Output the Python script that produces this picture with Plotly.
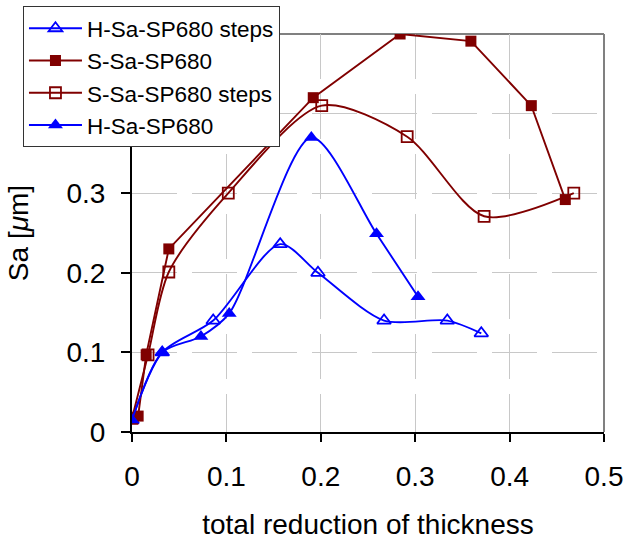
import plotly.graph_objects as go

# H-Sa-SP680 steps (open triangles)
h_steps_x = [0.0, 0.032, 0.086, 0.157, 0.197, 0.267, 0.334, 0.370]
h_steps_y = [0.015, 0.100, 0.140, 0.236, 0.200, 0.140, 0.140, 0.124]

# S-Sa-SP680 (filled squares)
s_x = [0.0, 0.0065, 0.015, 0.039, 0.192, 0.284, 0.359, 0.423, 0.459]
s_y = [0.017, 0.020, 0.097, 0.230, 0.420, 0.500, 0.491, 0.410, 0.292]

# S-Sa-SP680 steps (open squares)
s_steps_x = [0.0, 0.017, 0.039, 0.102, 0.201, 0.2915, 0.373, 0.468]
s_steps_y = [0.017, 0.097, 0.201, 0.300, 0.410, 0.371, 0.271, 0.300]

# H-Sa-SP680 (filled triangles)
h_x = [0.0, 0.032, 0.073, 0.103, 0.190, 0.259, 0.303]
h_y = [0.015, 0.100, 0.120, 0.149, 0.370, 0.249, 0.170]

x_ticks = [0, 0.1, 0.2, 0.3, 0.4, 0.5]
x_labels = ["0", "0.1", "0.2", "0.3", "0.4", "0.5"]
y_ticks = [0, 0.1, 0.2, 0.3, 0.4, 0.5]
y_labels = ["0", "0.1", "0.2", "0.3", "", ""]  # 0.4 and 0.5 hidden behind the legend

BLUE = "#0000FF"
RED = "#800000"
LW = 1.9

fig = go.Figure()
fig.add_trace(go.Scatter(
    x=h_steps_x, y=h_steps_y, name="H-Sa-SP680 steps", mode="lines+markers",
    line=dict(color=BLUE, width=LW, shape="spline", smoothing=0.8),
    marker=dict(symbol="triangle-up-open", size=12, color=BLUE, line=dict(width=1.8, color=BLUE))))
fig.add_trace(go.Scatter(
    x=s_x, y=s_y, name="S-Sa-SP680", mode="lines+markers",
    line=dict(color=RED, width=LW),
    marker=dict(symbol="square", size=11, color=RED)))
fig.add_trace(go.Scatter(
    x=s_steps_x, y=s_steps_y, name="S-Sa-SP680 steps", mode="lines+markers",
    line=dict(color=RED, width=LW, shape="spline", smoothing=0.8),
    marker=dict(symbol="square-open", size=11, color=RED, line=dict(width=1.8, color=RED))))
fig.add_trace(go.Scatter(
    x=h_x, y=h_y, name="H-Sa-SP680", mode="lines+markers",
    line=dict(color=BLUE, width=LW, shape="spline", smoothing=0.8),
    marker=dict(symbol="triangle-up", size=13, color=BLUE)))

font_family = "Liberation Sans, Arial, sans-serif"

fig.update_layout(
    width=627, height=540,
    margin=dict(l=132, r=23, t=34, b=108, autoexpand=False),
    paper_bgcolor="white", plot_bgcolor="white",
    font=dict(family=font_family, size=28, color="black"),
    showlegend=True,
    legend=dict(
        x=-0.231, y=1.07, xanchor="left", yanchor="top",
        bgcolor="white", bordercolor="#333333", borderwidth=1,
        font=dict(size=22.5, family=font_family),
        tracegroupgap=0, itemwidth=53,
    ),
    xaxis=dict(
        range=[0, 0.5], tickvals=x_ticks, ticktext=x_labels,
        showgrid=True, gridcolor="#c8c8c8", griddash="45px,15px", gridwidth=1,
        showline=True, linecolor="black", linewidth=2, mirror=False,
        ticks="outside", ticklen=8, tickwidth=2, tickcolor="black",
        ticklabelstandoff=10, zeroline=False,
        title=dict(text="total reduction of thickness", standoff=24, font=dict(size=28)),
    ),
    yaxis=dict(
        range=[0, 0.5], tickvals=y_ticks, ticktext=y_labels,
        showgrid=True, gridcolor="#c8c8c8", griddash="45px,15px", gridwidth=1,
        showline=True, linecolor="black", linewidth=2, mirror=False,
        ticks="outside", ticklen=9, tickwidth=2, tickcolor="black",
        ticklabelstandoff=10, zeroline=False,
        title=dict(text="Sa [<i>μ</i>m]", standoff=30, font=dict(size=28)),
    ),
    shapes=[
        dict(type="line", xref="paper", yref="paper", x0=0, x1=1, y0=1, y1=1,
             line=dict(color="#808080", width=2), layer="below"),
        dict(type="line", xref="paper", yref="paper", x0=1, x1=1, y0=0, y1=1,
             line=dict(color="#808080", width=2), layer="below"),
    ],
)

fig.write_html("out.html")
